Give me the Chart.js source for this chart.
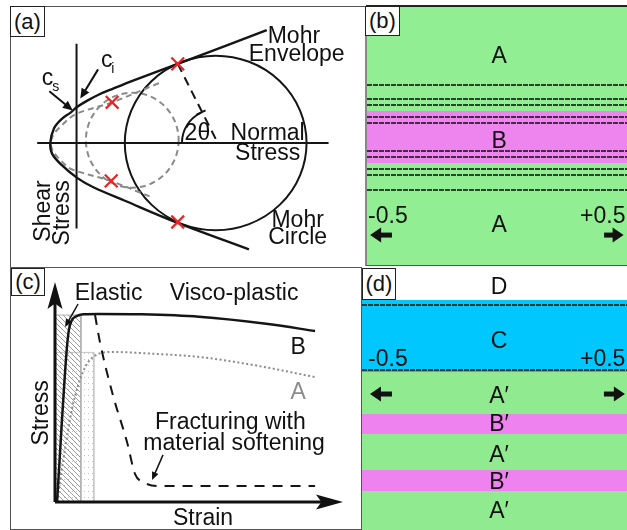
<!DOCTYPE html>
<html>
<head>
<meta charset="utf-8">
<script src="https://cdn.jsdelivr.net/npm/chart.js@4.4.1/dist/chart.umd.min.js"></script>
<style>
  html, body { margin: 0; padding: 0; background: #fff; }
  #fig { position: relative; width: 627px; height: 530px; overflow: hidden; }
  .pane { position: absolute; }
  .pane canvas { display: block; }
  .rule { position: absolute; }
  .tag {
    position: absolute; background: #fff; border: 1px solid #222; box-sizing: border-box;
    font-family: "Liberation Sans", Arial, Helvetica, sans-serif; font-size: 22px; color: #111;
    text-align: center;
  }
</style>
</head>
<body>
<div id="fig">
  <div class="pane" style="left:11px;top:7px;width:355px;height:260px"><canvas id="cA" width="355" height="260"></canvas></div>
  <div class="pane" style="left:367px;top:7px;width:260px;height:258px"><canvas id="cB" width="260" height="258"></canvas></div>
  <div class="pane" style="left:11px;top:268px;width:351px;height:261px"><canvas id="cC" width="351" height="261"></canvas></div>
  <div class="pane" style="left:362px;top:268px;width:265px;height:262px"><canvas id="cD" width="265" height="262"></canvas></div>

  <div class="rule" style="left:10px;top:6px;width:356px;height:1px;background:#555"></div>
  <div class="rule" style="left:366px;top:5px;width:261px;height:2px;background:#222"></div>
  <div class="rule" style="left:10px;top:6px;width:1px;height:524px;background:#555"></div>
  <div class="rule" style="left:10px;top:267px;width:352px;height:1px;background:#555"></div>
  <div class="rule" style="left:365px;top:6px;width:2px;height:260px;background:#888"></div>
  <div class="rule" style="left:366px;top:265px;width:261px;height:1px;background:#555"></div>
  <div class="rule" style="left:361px;top:267px;width:1px;height:263px;background:#555"></div>
  <div class="rule" style="left:10px;top:529px;width:352px;height:1px;background:#555"></div>

  <div class="tag" style="left:10px;top:6px;width:35px;height:31px;line-height:29px">(a)</div>
  <div class="tag" style="left:365px;top:6px;width:35px;height:30px;line-height:28px">(b)</div>
  <div class="tag" style="left:11px;top:268px;width:34px;height:28px;line-height:26px">(c)</div>
  <div class="tag" style="left:362px;top:268px;width:34px;height:32px;line-height:30px">(d)</div>
</div>

<script>
// ---------------- (a) Mohr diagram: normal stress σ vs shear stress τ ----------------
const envelopeSigma = [20.3, 10.8, 6.1, 3.8, 2.4, 1.1, 0.0, -0.6, -1.6, -2.4, -2.8, -2.6, -1.6, 0.1, 1.8, 5.1, 10.8, 18.4];
const envelopeTau   = [12.35, 8.65, 6.85, 5.9, 5.3, 4.6, 3.9, 3.35, 2.6, 1.6, 0.0, -1.2, -2.4, -3.85, -4.85, -6.3, -8.75, -11.65];
const earlyEnvelopeSigma = [8.8, 3.8, -0.1, -1.5, -2.4, -2.75, -2.45, -1.5, -0.6, 3.6, 7.8];
const earlyEnvelopeTau   = [6.55, 4.45, 3.15, 2.0, 1.0, 0.0, -1.0, -2.1, -2.85, -4.15, -5.85];
const mohrCircle  = { sigma: 14.85, tau: 0.0, rSigma: 9.7, rTau: 9.55 };
const earlyCircle = { sigma: 5.95, tau: 0.3, rSigma: 4.95, rTau: 5.2 };
const contactSigma = [10.8, 3.8, 3.7, 10.8];
const contactTau   = [8.65, 4.45, -4.15, -8.65];
const radiusSigma = [10.8, 14.9];
const radiusTau   = [8.65, 0.35];
const shearAxisTau = [10.85, -9.35];
const normalAxisSigma = [-4.2, 26.9];

// ---------------- (b) initial layering ----------------
const bLayerName   = ['A', 'B', 'A'];
const bLayerTop    = [1.0, 0.597, 0.395];
const bLayerBottom = [0.597, 0.395, 0.0];
const bLabelY      = [0.783, 0.453, 0.128];
const bContacts    = [0.698, 0.643, 0.620, 0.574, 0.550, 0.442, 0.419, 0.372, 0.349, 0.291];

// ---------------- (c) stress-strain curves ----------------
const strainB = [0.007, 0.04, 0.048, 0.058, 0.075, 0.1, 0.15, 0.3, 0.5, 0.74, 0.903];
const stressB = [0.0, 0.68, 0.78, 0.825, 0.845, 0.853, 0.855, 0.853, 0.842, 0.809, 0.777];
const strainA = [0.007, 0.03, 0.059, 0.097, 0.132, 0.2, 0.35, 0.503, 0.7, 0.903];
const stressA = [0.0, 0.2, 0.423, 0.591, 0.659, 0.682, 0.673, 0.659, 0.62, 0.568];
const strainFrac = [0.139, 0.156, 0.201, 0.25, 0.278, 0.306, 0.354, 0.903];
const stressFrac = [0.85, 0.727, 0.486, 0.273, 0.127, 0.091, 0.073, 0.073];
const elasticZone    = { strain: 0.09,  stress: 0.85 };
const transitionZone = { strain: 0.135, stress: 0.68 };
const axisMax = { strain: 1.0, stress: 1.0 };

// ---------------- (d) final layering ----------------
const dLayerName   = ['D', 'C', 'A′', 'B′', 'A′', 'B′', 'A′'];
const dLayerTop    = [1.0, 0.878, 0.603, 0.443, 0.366, 0.229, 0.149];
const dLayerBottom = [0.878, 0.603, 0.443, 0.366, 0.229, 0.149, 0.0];
const dLabelY      = [0.901, 0.695, 0.485, 0.378, 0.26, 0.156, 0.046];
const dContacts    = [0.859, 0.611];

const edgeTicks = ['-0.5', '+0.5'];
const edgeValues = [-0.5, 0.5];

const layerColor = { 'A': '#92ee92', 'B': '#ee84ee', 'A′': '#90ea90', 'B′': '#ee82ee', 'C': '#00c8ff', 'D': '#ffffff' };
const FONT = '"Liberation Sans", Arial, Helvetica, sans-serif';
const TEXT_SIZE = 23;

const pairs = (xs, ys) => xs.map((v, i) => ({ x: v, y: ys[i] }));

// annotations per canvas: shapes drawn under datasets, notes on top
const notes = {};

function arrow(ctx, x0, y0, x1, y1, a) {
  const ang = Math.atan2(y1 - y0, x1 - x0);
  const L = a.head || 9, H = a.half || 4, notch = a.notch || 0;
  const c = Math.cos(ang), s = Math.sin(ang);
  const bx = x1 - c * L, by = y1 - s * L;
  ctx.strokeStyle = ctx.fillStyle = a.color || '#111';
  ctx.lineWidth = a.width || 2;
  ctx.lineCap = 'butt';
  ctx.beginPath(); ctx.moveTo(x0, y0); ctx.lineTo(x1 - c * L * 0.6, y1 - s * L * 0.6); ctx.stroke();
  const px = -s, py = c;
  ctx.beginPath();
  ctx.moveTo(x1, y1);
  ctx.lineTo(bx + px * H, by + py * H);
  ctx.lineTo(x1 - c * L * (1 - notch), y1 - s * L * (1 - notch));
  ctx.lineTo(bx - px * H, by - py * H);
  ctx.closePath(); ctx.fill();
}

const sketch = {
  id: 'sketch',
  beforeDatasetsDraw(chart) {
    const n = notes[chart.canvas.id]; if (!n) return;
    const ctx = chart.ctx, X = v => chart.scales.x.getPixelForValue(v), Y = v => chart.scales.y.getPixelForValue(v);
    ctx.save();
    (n.ellipses || []).forEach(e => {
      ctx.beginPath();
      ctx.ellipse(X(e.sigma), Y(e.tau), Math.abs(X(e.sigma + e.rSigma) - X(e.sigma)), Math.abs(Y(e.tau + e.rTau) - Y(e.tau)), 0, 0, Math.PI * 2);
      ctx.setLineDash(e.dash || []); ctx.lineWidth = e.width; ctx.strokeStyle = e.color; ctx.stroke();
    });
    (n.arcs || []).forEach(a => {
      const cx = X(a.cx), cy = Y(a.cy);
      let end = Math.atan2(Y(a.towards[1]) - cy, X(a.towards[0]) - cx);
      if (end < Math.PI) end += Math.PI * 2;
      const r = Math.abs(X(a.cx + a.r) - cx);
      ctx.setLineDash([]); ctx.lineWidth = a.width; ctx.strokeStyle = a.color;
      ctx.beginPath(); ctx.arc(cx, cy, r, Math.PI, end); ctx.stroke();
      // small tick where the arc meets the radius
      const ex = cx + Math.cos(end) * r, ey = cy + Math.sin(end) * r;
      const tx = -Math.sin(end) * 5, ty = Math.cos(end) * 5;
      ctx.beginPath(); ctx.moveTo(ex - tx, ey - ty); ctx.lineTo(ex + tx, ey + ty); ctx.stroke();
    });
    ctx.restore();
  },
  afterDatasetsDraw(chart) {
    const n = notes[chart.canvas.id]; if (!n) return;
    const ctx = chart.ctx, X = v => chart.scales.x.getPixelForValue(v), Y = v => chart.scales.y.getPixelForValue(v);
    ctx.save();
    ctx.setLineDash([]);
    (n.arrows || []).forEach(a => arrow(ctx, X(a.from[0]), Y(a.from[1]), X(a.to[0]), Y(a.to[1]), a));
    (n.texts || []).forEach(t => {
      ctx.save();
      ctx.font = (t.size || TEXT_SIZE) + 'px ' + FONT;
      ctx.fillStyle = t.color || '#111';
      ctx.textAlign = t.align || 'center';
      ctx.textBaseline = t.baseline || 'alphabetic';
      ctx.translate(X(t.x), Y(t.y));
      if (t.rotate) ctx.rotate(t.rotate * Math.PI / 180);
      ctx.fillText(t.text, 0, 0);
      ctx.restore();
    });
    ctx.restore();
  }
};

// datasets listed bottom-to-top; earlier entries are painted first
function layered(list) {
  const n = list.length;
  return list.map((d, i) => Object.assign({ order: n - i, pointRadius: 0, pointHoverRadius: 0, fill: false, borderWidth: 2 }, d));
}

function makeChart(id, datasets, xr, yr) {
  return new Chart(document.getElementById(id), {
    type: 'line',
    data: { datasets: layered(datasets) },
    options: {
      responsive: false, animation: false, events: [],
      layout: { padding: 0 },
      scales: {
        x: { type: 'linear', min: xr[0], max: xr[1], display: false },
        y: { type: 'linear', min: yr[0], max: yr[1], display: false }
      },
      plugins: { legend: { display: false }, tooltip: { enabled: false } },
      elements: { line: { borderCapStyle: 'butt' } }
    },
    plugins: [sketch]
  });
}

// ---------- panel (a) ----------
notes.cA = {
  ellipses: [
    Object.assign({ color: '#8a8a8a', width: 2, dash: [6, 4] }, earlyCircle),
    Object.assign({ color: '#151515', width: 2 }, mohrCircle)
  ],
  arcs: [{ cx: mohrCircle.sigma, cy: mohrCircle.tau, r: 3.6, towards: [radiusSigma[0], radiusTau[0]], color: '#151515', width: 2 }],
  arrows: [
    { from: [2.3, 8.05], to: [0.4, 4.85], width: 2, head: 10, half: 4.5 },
    { from: [-2.9, 5.65], to: [-0.4, 3.55], width: 2, head: 10, half: 4.5 }
  ],
  texts: [
    { text: 'Mohr', x: 23.2, y: 10.95 },
    { text: 'Envelope', x: 23.5, y: 8.95 },
    { text: '2θ', x: 12.9, y: 0.35 },
    { text: 'Normal', x: 20.4, y: 0.35 },
    { text: 'Stress', x: 20.4, y: -1.85 },
    { text: 'Mohr', x: 23.6, y: -9.15 },
    { text: 'Circle', x: 23.6, y: -11.05 },
    { text: 'Shear', x: -3.5, y: -7.45, rotate: -90, baseline: 'middle' },
    { text: 'Stress', x: -1.5, y: -7.65, rotate: -90, baseline: 'middle' },
    { text: 'c', x: 2.6, y: 8.35, align: 'left' },
    { text: 'i', x: 3.7, y: 7.65, align: 'left', size: 14 },
    { text: 'c', x: -3.7, y: 6.35, align: 'left' },
    { text: 's', x: -2.6, y: 5.65, align: 'left', size: 14 }
  ]
};
makeChart('cA', [
  { data: pairs([0, 0], shearAxisTau), borderColor: '#151515', borderWidth: 2 },
  { data: pairs(normalAxisSigma, [0, 0]), borderColor: '#151515', borderWidth: 2 },
  { data: pairs(earlyEnvelopeSigma, earlyEnvelopeTau), borderColor: '#8a8a8a', borderWidth: 2, borderDash: [6, 4], tension: 0.35 },
  { data: pairs(envelopeSigma, envelopeTau), borderColor: '#151515', borderWidth: 2.4, tension: 0.35 },
  { data: pairs(radiusSigma, radiusTau), borderColor: '#151515', borderWidth: 2, borderDash: [9, 6] },
  { data: pairs(contactSigma, contactTau), showLine: false, pointStyle: 'crossRot', pointRadius: 9, pointBorderColor: '#ee2222', pointBorderWidth: 2.2, pointBackgroundColor: '#ee2222' }
], [-5.8, 29.7], [-12.35, 13.65]);

// ---------- panel (b) ----------
function layerSets(names, tops, bottoms) {
  return names.map((nm, i) => ({
    data: pairs(edgeValues, [tops[i], tops[i]]),
    borderWidth: 0, borderColor: 'rgba(0,0,0,0)',
    backgroundColor: layerColor[nm], fill: { target: { value: bottoms[i] } }
  }));
}
function contactSets(levels) {
  return levels.map(v => ({ data: pairs(edgeValues, [v, v]), borderColor: 'rgba(38,38,38,0.88)', borderWidth: 2, borderDash: [5, 1] }));
}
function sideNotes(labelY, arrowY, names, labelYs, ax) {
  const t = names.map((nm, i) => ({ text: nm, x: ax.mid, y: labelYs[i] }));
  t.push({ text: edgeTicks[0], x: ax.left, y: labelY, align: 'left' });
  t.push({ text: edgeTicks[1], x: ax.right, y: labelY, align: 'right' });
  return {
    texts: t,
    arrows: [
      { from: [ax.la[0], arrowY], to: [ax.la[1], arrowY], width: 5, head: 11, half: 7.5 },
      { from: [ax.ra[0], arrowY], to: [ax.ra[1], arrowY], width: 5, head: 11, half: 7.5 }
    ]
  };
}
notes.cB = sideNotes(0.163, 0.116, bLayerName, bLabelY,
  { mid: 0.008, left: -0.496, right: 0.494, la: [-0.404, -0.488], ra: [0.412, 0.487] });
makeChart('cB', [...layerSets(bLayerName, bLayerTop, bLayerBottom), ...contactSets(bContacts)], [-0.5, 0.5], [0, 1]);

// ---------- panel (c) ----------
const ctxC = document.getElementById('cC').getContext('2d');
function hatch() {
  const c = document.createElement('canvas'); c.width = 5; c.height = 5;
  const g = c.getContext('2d');
  g.strokeStyle = '#909090'; g.lineWidth = 0.9;
  g.beginPath(); g.moveTo(-1, -1); g.lineTo(6, 6); g.moveTo(-1, 4); g.lineTo(1, 6); g.moveTo(4, -1); g.lineTo(6, 1); g.stroke();
  return ctxC.createPattern(c, 'repeat');
}
function stipple() {
  const c = document.createElement('canvas'); c.width = 4; c.height = 6;
  const g = c.getContext('2d');
  g.fillStyle = '#c4c4c4'; g.fillRect(1, 1, 1, 1);
  return ctxC.createPattern(c, 'repeat');
}
notes.cC = {
  arrows: [
    { from: [0, 0], to: [0, axisMax.stress], width: 3, head: 27, half: 7.5, notch: 0.2 },
    { from: [0, 0], to: [axisMax.strain, 0], width: 3, head: 27, half: 7.5, notch: 0.2 },
    { from: [0.08, 0.9], to: [0.035, 0.795], width: 1.5, head: 8, half: 3.5 },
    { from: [0.375, 0.214], to: [0.337, 0.1], width: 1.5, head: 8, half: 3.5 }
  ],
  texts: [
    { text: 'Elastic', x: 0.186, y: 0.918 },
    { text: 'Visco-plastic', x: 0.622, y: 0.918 },
    { text: 'B', x: 0.844, y: 0.673 },
    { text: 'A', x: 0.844, y: 0.468, color: '#8c8c8c' },
    { text: 'Fracturing with', x: 0.609, y: 0.332 },
    { text: 'material softening', x: 0.622, y: 0.236 },
    { text: 'Strain', x: 0.514, y: -0.105 },
    { text: 'Stress', x: -0.045, y: 0.405, rotate: -90, baseline: 'middle' }
  ]
};
makeChart('cC', [
  { data: pairs([0, transitionZone.strain, transitionZone.strain], [transitionZone.stress, transitionZone.stress, 0]),
    borderColor: '#c8c8c8', borderWidth: 1, backgroundColor: stipple(), fill: 'origin' },
  { data: pairs([0, elasticZone.strain, elasticZone.strain], [elasticZone.stress, elasticZone.stress, 0]),
    borderColor: '#b0b0b0', borderWidth: 1, backgroundColor: hatch(), fill: 'origin' },
  { data: pairs(strainA, stressA), borderColor: '#8c8c8c', borderWidth: 2, borderDash: [2, 2.5], cubicInterpolationMode: 'monotone' },
  { data: pairs(strainFrac, stressFrac), borderColor: '#151515', borderWidth: 2, borderDash: [10, 8], cubicInterpolationMode: 'monotone' },
  { data: pairs(strainB, stressB), borderColor: '#151515', borderWidth: 2.5, cubicInterpolationMode: 'monotone' }
], [-0.15278, 1.06597], [-0.12273, 1.06364]);

// ---------- panel (d) ----------
notes.cD = sideNotes(0.626, 0.519, dLayerName, dLabelY,
  { mid: 0.017, left: -0.477, right: 0.494, la: [-0.387, -0.47], ra: [0.413, 0.492] });
makeChart('cD', [...layerSets(dLayerName, dLayerTop, dLayerBottom), ...contactSets(dContacts)], [-0.5, 0.5], [0, 1]);
</script>
</body>
</html>
